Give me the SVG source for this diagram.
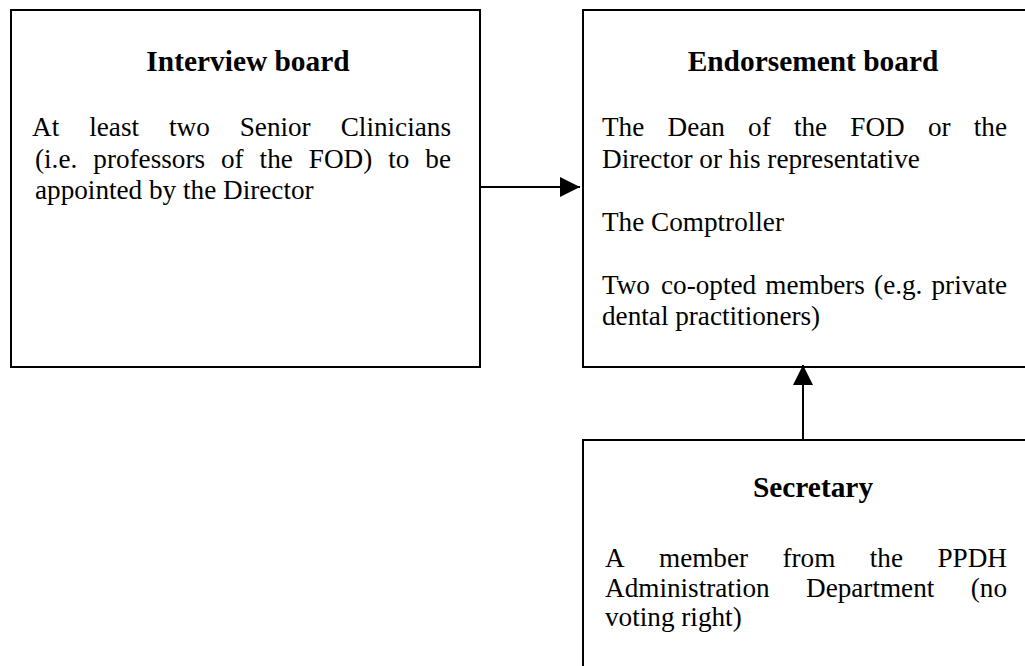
<svg xmlns="http://www.w3.org/2000/svg" width="1025" height="666" viewBox="0 0 1025 666">
  <style>
    .box { fill: #ffffff; stroke: #000000; stroke-width: 2; }
    .title { font-family: "Liberation Serif", "Times New Roman", serif; font-weight: bold; font-size: 29.4px; fill: #000; text-anchor: middle; }
    .body { font-family: "Liberation Serif", "Times New Roman", serif; font-size: 27.2px; fill: #000; }
    .end { text-anchor: end; }
    .conn { stroke: #000; stroke-width: 2; fill: none; }
  </style>
  <defs>
    <marker id="arrow" markerUnits="userSpaceOnUse" markerWidth="20" markerHeight="20" refX="20" refY="10" orient="auto" viewBox="0 0 20 20">
      <path d="M0,0 L20,10 L0,20 Z" fill="#000"/>
    </marker>
  </defs>
  <rect width="1025" height="666" fill="#ffffff"/>

  <g id="interview-board">
    <rect class="box" x="11" y="10" width="469" height="357"/>
    <text class="title" x="248" y="71">Interview board</text>
    <text class="body" y="136"><tspan x="32">At</tspan><tspan x="89.2">least</tspan><tspan x="169">two</tspan><tspan x="239.7">Senior</tspan><tspan class="end" x="451">Clinicians</tspan></text>
    <text class="body" y="168"><tspan x="35">(i.e.</tspan><tspan x="93.3">professors</tspan><tspan x="221">of</tspan><tspan x="259.6">the</tspan><tspan x="308.8">FOD)</tspan><tspan x="388.2">to</tspan><tspan class="end" x="451">be</tspan></text>
    <text class="body" x="35" y="199">appointed by the Director</text>
  </g>

  <g id="endorsement-board">
    <rect class="box" x="583" y="10" width="500" height="357"/>
    <text class="title" x="813" y="71">Endorsement board</text>
    <text class="body" y="136"><tspan x="602">The</tspan><tspan x="667.5">Dean</tspan><tspan x="748.1">of</tspan><tspan x="793.9">the</tspan><tspan x="850.3">FOD</tspan><tspan x="927.9">or</tspan><tspan class="end" x="1007">the</tspan></text>
    <text class="body" x="602" y="168">Director or his representative</text>
    <text class="body" x="602" y="231">The Comptroller</text>
    <text class="body" y="294"><tspan x="602">Two</tspan><tspan x="661">co-opted</tspan><tspan x="765.3">members</tspan><tspan x="874.1">(e.g.</tspan><tspan class="end" x="1007">private</tspan></text>
    <text class="body" x="602" y="325">dental practitioners)</text>
  </g>

  <g id="secretary">
    <rect class="box" x="583" y="440" width="500" height="300"/>
    <text class="title" x="813" y="497">Secretary</text>
    <text class="body" y="567"><tspan x="605">A</tspan><tspan x="659">member</tspan><tspan x="782.5">from</tspan><tspan x="869.8">the</tspan><tspan class="end" x="1007">PPDH</tspan></text>
    <text class="body" y="597"><tspan x="605">Administration</tspan><tspan x="806">Department</tspan><tspan class="end" x="1007">(no</tspan></text>
    <text class="body" x="605" y="626">voting right)</text>
  </g>

  <g id="connectors">
    <line class="conn" x1="481" y1="187" x2="580" y2="187" marker-end="url(#arrow)"/>
    <line class="conn" x1="803" y1="439" x2="803" y2="365" marker-end="url(#arrow)"/>
  </g>
</svg>
